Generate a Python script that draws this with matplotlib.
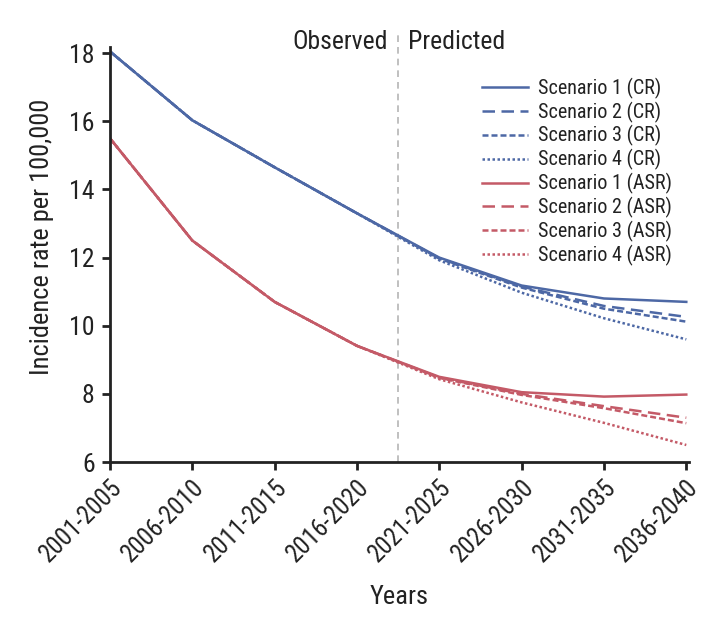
import matplotlib
matplotlib.use("Agg")
import matplotlib.pyplot as plt
from matplotlib import font_manager

periods = ["2001-2005", "2006-2010", "2011-2015", "2016-2020",
           "2021-2025", "2026-2030", "2031-2035", "2036-2040"]

cr_s1 = [18.05, 16.03, 14.65, 13.30, 12.00, 11.18, 10.80, 10.70]
cr_s2 = [18.05, 16.03, 14.65, 13.30, 11.98, 11.15, 10.58, 10.26]
cr_s3 = [18.05, 16.03, 14.65, 13.30, 11.97, 11.12, 10.50, 10.12]
cr_s4 = [18.05, 16.03, 14.65, 13.30, 11.92, 10.97, 10.22, 9.60]

asr_s1 = [15.50, 12.50, 10.70, 9.41, 8.50, 8.05, 7.92, 7.98]
asr_s2 = [15.50, 12.50, 10.70, 9.41, 8.48, 8.00, 7.64, 7.30]
asr_s3 = [15.50, 12.50, 10.70, 9.41, 8.47, 7.97, 7.58, 7.14]
asr_s4 = [15.50, 12.50, 10.70, 9.41, 8.43, 7.75, 7.15, 6.50]

labels_cr = ["Scenario 1 (CR)", "Scenario 2 (CR)", "Scenario 3 (CR)", "Scenario 4 (CR)"]
labels_asr = ["Scenario 1 (ASR)", "Scenario 2 (ASR)", "Scenario 3 (ASR)", "Scenario 4 (ASR)"]

names = {f.name for f in font_manager.fontManager.ttflist}
fam = "Liberation Sans"
for cand in ["Roboto Condensed", "Liberation Sans Narrow", "Archivo Narrow",
             "PT Sans Narrow", "Fira Sans Condensed", "Barlow Condensed",
             "Open Sans Condensed", "IBM Plex Sans Condensed", "Encode Sans Condensed"]:
    if cand in names:
        fam = cand
        break
plt.rcParams['font.family'] = [fam, 'DejaVu Sans']

blue = "#4d68a5"
red = "#c45a67"
txtc = "#222222"
styles = ["-", (0, (5, 2.6)), (0, (2.4, 1.2)), (0, (1, 1))]

fig = plt.figure(figsize=(7.28, 6.33), dpi=100)
ax = fig.add_axes([0.1511, 0.2701, 0.795, 0.6556])
x = list(range(len(periods)))

for vals, lab, ls in zip([cr_s1, cr_s2, cr_s3, cr_s4], labels_cr, styles):
    ax.plot(x, vals, color=blue, lw=1.8, linestyle=ls, label=lab)
for vals, lab, ls in zip([asr_s1, asr_s2, asr_s3, asr_s4], labels_asr, styles):
    ax.plot(x, vals, color=red, lw=1.8, linestyle=ls, label=lab)

ax.plot([3.5, 3.5], [6, 18.65], color="#b5b5b5", lw=1.2, linestyle=(0, (4, 3)),
        zorder=0, clip_on=False)
ax.text(3.38, 18.32, "Observed", ha="right", va="center", fontsize=18.5, color=txtc)
ax.text(3.62, 18.32, "Predicted", ha="left", va="center", fontsize=18.5, color=txtc)

ax.set_xlim(0, 7.03)
ax.set_ylim(6, 18.18)
ax.set_yticks([6, 8, 10, 12, 14, 16, 18])
ax.set_xticks(x)
ax.set_xticklabels(periods, rotation=45, ha="right", rotation_mode="anchor", fontsize=18)
ax.tick_params(axis="y", labelsize=18.5, pad=5)
ax.tick_params(width=2, length=6, color=txtc, labelcolor=txtc)
for s in ["top", "right"]:
    ax.spines[s].set_visible(False)
for s in ["left", "bottom"]:
    ax.spines[s].set_linewidth(2)
    ax.spines[s].set_color(txtc)

ax.set_xlabel("Years", fontsize=19, color=txtc, labelpad=13)
ax.set_ylabel("Incidence rate per 100,000", fontsize=19, color=txtc)
ax.yaxis.set_label_coords(-0.097, 0.542)

leg = ax.legend(loc="upper left", bbox_to_anchor=(0.611, 0.97), frameon=False,
                fontsize=14.5, handlelength=2.3, handletextpad=0.5, labelspacing=0.14)
for t in leg.get_texts():
    t.set_color(txtc)

fig.savefig("out.png", dpi=100)
